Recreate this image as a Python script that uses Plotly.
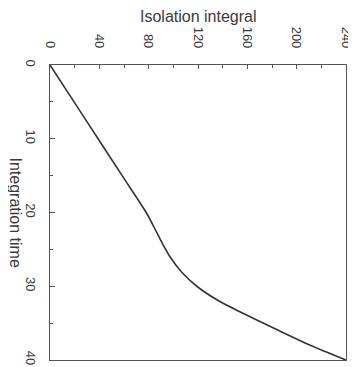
import plotly.graph_objects as go

integration_time = [0, 5, 10, 15, 20, 22, 24, 26, 28, 30, 32, 34, 36, 38, 40]
isolation_integral = [0, 19.5, 39, 58.5, 78, 84.4, 90.5, 97.3, 106.3, 119, 137, 160.6, 185.5, 211, 240]

x_ticks = [0, 40, 80, 120, 160, 200, 240]
y_ticks = [0, 10, 20, 30, 40]

FONT = "Liberation Sans, Arial, Helvetica, sans-serif"
AX = "#555555"
TXT = "#3a3a3a"

fig = go.Figure()
fig.add_trace(go.Scatter(
    x=isolation_integral, y=integration_time, mode="lines",
    line=dict(color="#333333", width=1.6, shape="spline", smoothing=0.8),
    showlegend=False, hoverinfo="skip"))

fig.update_layout(
    width=356, height=367,
    margin=dict(l=42, r=13, t=57, b=10),
    paper_bgcolor="white", plot_bgcolor="white",
    font=dict(family=FONT, size=13, color=TXT),
    xaxis=dict(
        side="top", range=[0, 240], tickvals=x_ticks, ticktext=[str(v) for v in x_ticks],
        tickangle=90, ticks="inside", ticklen=4, tickwidth=1, tickcolor=AX,
        ticklabelstandoff=11,
        showline=True, linecolor=AX, linewidth=1.2, mirror=True,
        showgrid=False, zeroline=False,
        minor=dict(dtick=20, ticks="inside", ticklen=3, tickcolor=AX, showgrid=False),
        tickfont=dict(size=13, color=TXT)),
    yaxis=dict(
        range=[40, 0], tickvals=y_ticks, ticktext=[str(v) for v in y_ticks],
        tickangle=90, ticks="inside", ticklen=5, tickwidth=1, tickcolor=AX,
        ticklabelstandoff=7,
        showline=True, linecolor=AX, linewidth=1.2, mirror=True,
        showgrid=False, zeroline=False,
        minor=dict(dtick=5, ticks="inside", ticklen=3, tickcolor=AX, showgrid=False),
        tickfont=dict(size=13, color=TXT)),
    annotations=[
        dict(text="Integration time", xref="paper", yref="paper", x=0, y=0.5,
             xshift=-35, showarrow=False, textangle=90, font=dict(size=16, color=TXT),
             xanchor="center", yanchor="middle"),
        dict(text="Isolation integral", xref="paper", yref="paper", x=0.5, y=1,
             yshift=49, showarrow=False, font=dict(size=16, color=TXT),
             xanchor="center", yanchor="middle"),
    ],
)

fig.write_html("out.html")
